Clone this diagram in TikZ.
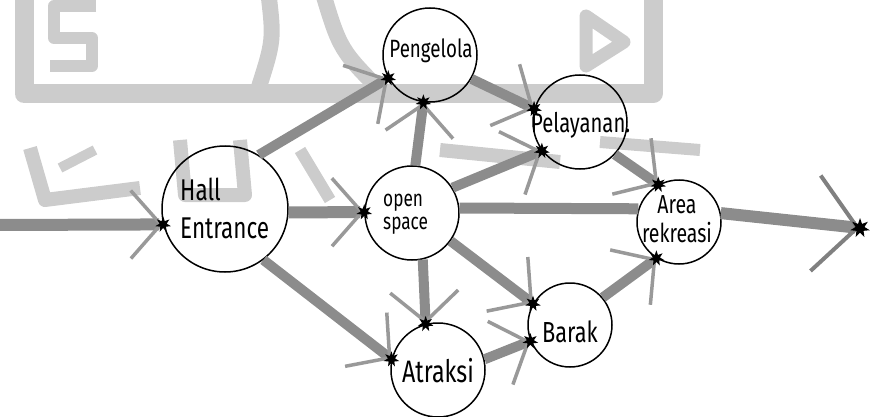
\documentclass[tikz,border=0pt]{standalone}
\usepackage{fontspec}
\newfontfamily\hand[FakeStretch=0.75]{Fira Sans}
\usetikzlibrary{arrows.meta,shapes.geometric}
\begin{document}
\begin{tikzpicture}[x=1pt,y=-1pt,
  bubble/.style={circle, draw=black, line width=1.5pt, inner sep=0pt},
  lab/.style={font=\hand\fontsize{#1}{#1}\selectfont, inner sep=0pt},
  lab/.default=24,
  flow/.style={line width=10pt, draw=black!45, line cap=butt,
    -{Straight Barb[length=30pt,width=68pt,line width=3.5pt,color=black!40]}},
  bigflow/.style={line width=12pt, draw=black!45,
    -{Straight Barb[length=42pt,width=96pt,line width=4pt,color=black!50]}},
  shaft/.style={line width=11pt, draw=black!45},
  tipstar/.style={star, star points=7, star point ratio=2.2, fill=black, inner sep=0pt, minimum size=16pt},
  wm/.style={draw=black!20, line width=16pt, line join=round}]
\useasboundingbox (0,0) rectangle (872,417);

% faint watermark
\draw[wm, line width=19pt] (24,-12) -- (24,94) -- (653,94) -- (653,-12);
\draw[wm, line width=12pt] (96,6) -- (54,6) -- (54,38) -- (92,38) -- (92,66) -- (50,66);
\draw[wm] (268,-10) .. controls (274,40) .. (258,90);
\draw[wm] (322,-10) .. controls (340,50) .. (385,95);
\draw[wm, line width=13pt] (586,16) -- (624,42) -- (586,66) -- cycle;
\draw[wm, line width=14pt] (30,148) -- (45,200) -- (140,188);
\draw[wm, line width=10pt] (60,168) -- (95,150);
\draw[wm, line width=14pt] (180,140) -- (185,195) -- (245,195) -- (240,140);
\draw[wm, line width=12pt] (300,150) -- (330,200);
\draw[wm, line width=14pt] (440,150) -- (560,162);
\draw[wm, line width=12pt] (600,142) -- (700,150);

% bubbles
\node[bubble, minimum size=126pt] (he) at (225,209) {};
\node[bubble, minimum size=94pt] (os) at (412,213) {};
\node[bubble, minimum size=94pt] (peng) at (430,55) {};
\node[bubble, minimum size=94pt] (pel) at (580,122) {};
\node[bubble, minimum size=84pt] (area) at (679,222) {};
\node[bubble, minimum size=84pt] (barak) at (570,325) {};
\node[bubble, minimum size=94pt] (atr) at (438,370) {};

\coordinate (entry) at (-5,225);
\coordinate (exit) at (860,228);

% connectors
\draw[flow, line width=12pt] (entry) -- (he.194);
\draw[flow] (he.58) -- (peng.209);
\draw[flow, line width=12pt] (he.357) -- (os.179);
\draw[flow] (he.307) -- (atr.167);
\draw[flow] (os.86) -- (peng.262);
\draw[flow] (os.32) -- (pel.217);
\draw[shaft] (os.6) -- (area.162);
\draw[flow] (os.283) -- (atr.105);
\draw[flow] (os.324) -- (barak.150);
\draw[flow] (peng.330) -- (pel.164);
\draw[flow] (pel.317) -- (area.119);
\draw[flow] (atr.13) -- (barak.202);
\draw[flow] (barak.40) -- (area.238);
\draw[bigflow] (area.12) -- (exit);

% tips
\node[tipstar] (t1) at (he.194) {};
\node[tipstar] (t2) at (peng.209) {};
\node[tipstar] (t3) at (os.179) {};
\node[tipstar] (t4) at (atr.167) {};
\node[tipstar] (t5) at (peng.262) {};
\node[tipstar] (t6) at (pel.217) {};
\node[tipstar] (t7) at (atr.105) {};
\node[tipstar] (t8) at (barak.150) {};
\node[tipstar] (t9) at (pel.164) {};
\node[tipstar] (t10) at (area.119) {};
\node[tipstar] (t11) at (barak.202) {};
\node[tipstar] (t12) at (area.238) {};
\node[tipstar, minimum size=20pt] (t13) at (exit) {};

% labels
\node[font=\hand\fontsize{30}{38}\selectfont, align=left, inner sep=0pt, anchor=base west] (lhe) at (180,238) {Hall\\Entrance};
\node[font=\hand\fontsize{23}{23}\selectfont, align=left, inner sep=0pt, anchor=base west] (los) at (383,229) {open\\space};
\node[lab=25, anchor=base] (lpeng) at (431,58) {Pengelola};
\node[lab=27, anchor=base west] (lpel) at (531,132) {Pelayanan.};
\node[font=\hand\fontsize{26}{29}\selectfont, align=center, inner sep=0pt, anchor=base] (larea) at (677,242) {Area\\rekreasi};
\node[lab=29, anchor=base] (lbar) at (570,342) {Barak};
\node[lab=31, anchor=base] (latr) at (438,382) {Atraksi};
\end{tikzpicture}
\end{document}
